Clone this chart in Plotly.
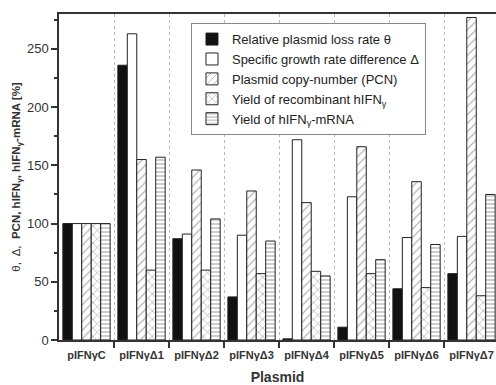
import plotly.graph_objects as go

categories = ["pIFNγC", "pIFNγΔ1", "pIFNγΔ2", "pIFNγΔ3", "pIFNγΔ4", "pIFNγΔ5", "pIFNγΔ6", "pIFNγΔ7"]
theta = [100, 236, 87, 37, 1, 11, 44, 57]
delta = [100, 263, 91, 90, 172, 123, 88, 89]
pcn = [100, 155, 146, 128, 118, 166, 136, 277]
hifn = [100, 60, 60, 57, 59, 57, 45, 38]
mrna = [100, 157, 104, 85, 55, 69, 82, 125]
series_names = ["Relative plasmid loss rate θ", "Specific growth rate difference Δ",
                "Plasmid copy-number (PCN)", "Yield of recombinant hIFN<sub>γ</sub>",
                "Yield of hIFN<sub>γ</sub>-mRNA"]
y_ticks = [0, 50, 100, 150, 200, 250]

xpos = list(range(len(categories)))
fig = go.Figure()
styles = [
    dict(color="#111111", pattern=None),
    dict(color="white", pattern=None),
    dict(color="white", pattern=dict(shape="/", fgcolor="#666666", bgcolor="white", size=6, solidity=0.2)),
    dict(color="white", pattern=dict(shape="x", fgcolor="#666666", bgcolor="white", size=6, solidity=0.25)),
    dict(color="white", pattern=dict(shape="-", fgcolor="#555555", bgcolor="white", size=4, solidity=0.3)),
]
for name, vals, st in zip(series_names, [theta, delta, pcn, hifn, mrna], styles):
    marker = dict(color=st["color"], line=dict(color="#222222", width=1))
    if st["pattern"]:
        marker["pattern"] = st["pattern"]
    fig.add_trace(go.Bar(x=xpos, y=vals, name=name, marker=marker))

fig.update_layout(
    width=496, height=385,
    margin=dict(l=59, r=0, t=14, b=45),
    barmode="group", bargap=0.14, bargroupgap=0,
    plot_bgcolor="white", paper_bgcolor="white",
    font=dict(family="Liberation Sans, Arial, sans-serif", color="#333333", size=12),
    showlegend=True,
    legend=dict(x=0.302, y=0.972, xanchor="left", yanchor="top",
                bordercolor="#888888", borderwidth=1, bgcolor="white",
                font=dict(size=13, color="#222222"), tracegroupgap=0,
                itemwidth=30),
)
fig.update_xaxes(
    range=[-0.5, 7.445], automargin=False,
    tickmode="array", tickvals=xpos, ticktext=["<b>%s</b>" % c for c in categories],
    ticks="", showgrid=False, zeroline=False, ticklabelstandoff=4,
    showline=True, linecolor="#333333", linewidth=1.5, mirror=True,
    tickfont=dict(size=11, color="#333333"),
    minor=dict(tickmode="array", tickvals=[i + 0.5 for i in range(len(categories) - 1)],
               ticks="outside", ticklen=6, tickcolor="#333333", tickwidth=1.5,
               showgrid=True, griddash="dot", gridcolor="#bbbbbb", gridwidth=1),
    title=dict(text="<b>Plasmid</b>", font=dict(size=14, color="#333333"), standoff=16),
)
fig.update_yaxes(
    range=[0, 280], tickmode="array", tickvals=y_ticks, automargin=False,
    ticks="outside", ticklen=6, tickcolor="#333333", tickwidth=1.5,
    showgrid=False, zeroline=False,
    showline=True, linecolor="#333333", linewidth=1.5,
    tickfont=dict(size=13, color="#333333"),
    minor=dict(dtick=25, ticks="outside", ticklen=3, tickcolor="#333333", showgrid=False),
    title=dict(text="θ,  Δ,  <b>PCN, hIFN<sub>γ</sub>, hIFN<sub>γ</sub>-mRNA [%]</b>",
               font=dict(size=11.5, color="#333333"), standoff=4),
)

fig.write_html("out.html", config={"displayModeBar": False},
               post_script="document.body.style.margin='0';document.body.style.overflow='hidden';")
